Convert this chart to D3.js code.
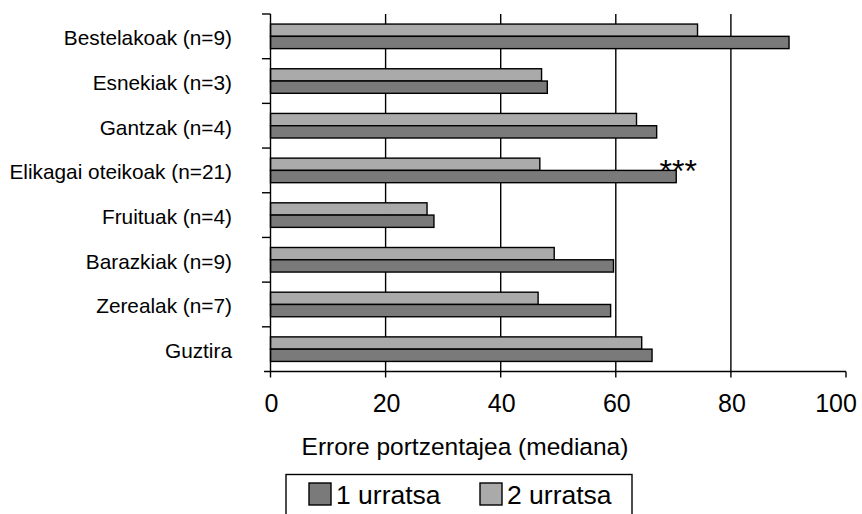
<!DOCTYPE html>
<html lang="eu">
<head>
    <meta charset="UTF-8">
    <title>Errore portzentajea</title>
    <script src="https://d3js.org/d3.v7.min.js"></script>
    <style>
        body { margin: 0; background: white; }
        text { font-family: "Liberation Sans", Arial, sans-serif; fill: black; }
    </style>
</head>
<body>
<svg height="514" width="862"></svg>

<script>
    const categories = ["Bestelakoak (n=9)", "Esnekiak (n=3)", "Gantzak (n=4)", "Elikagai oteikoak (n=21)",
        "Fruituak (n=4)", "Barazkiak (n=9)", "Zerealak (n=7)", "Guztira"];
    const urratsa1 = [90.1, 48.1, 67.1, 70.5, 28.4, 59.6, 59.1, 66.3];
    const urratsa2 = [74.2, 47.1, 63.6, 46.8, 27.2, 49.3, 46.5, 64.5];
    const xTicks = [0, 20, 40, 60, 80, 100];
    const seriesNames = ["1 urratsa", "2 urratsa"];
    const seriesColors = ["#7a7a7a", "#aaaaaa"];
    const marked = "Elikagai oteikoak (n=21)";   // ***

    const svg = d3.select("svg");

    const x = d3.scaleLinear().domain([0, 100]).range([270.5, 846]);
    const y = d3.scaleBand().domain(categories).range([14, 371.5]);
    // light bar (2 urratsa) sits above the dark one inside each band
    const inner = d3.scaleBand().domain(["2", "1"]).range([0, y.bandwidth()]).paddingOuter(0.82);

    // gridlines
    svg.append("g")
        .selectAll("line")
        .data(xTicks.filter(t => t > 0 && t < 100))
        .enter()
        .append("line")
        .attr("x1", d => x(d)).attr("x2", d => x(d))
        .attr("y1", 14).attr("y2", 371.5)
        .attr("stroke", "black").attr("stroke-width", 1.4);

    const rows = categories.map((c, i) => ({cat: c, v1: urratsa1[i], v2: urratsa2[i]}));

    const bars = svg.append("g");
    rows.forEach(function(r) {
        bars.append("rect")
            .attr("x", x(0)).attr("y", y(r.cat) + inner("2"))
            .attr("width", x(r.v2) - x(0)).attr("height", inner.bandwidth())
            .attr("fill", seriesColors[1]).attr("stroke", "black").attr("stroke-width", 1.4);
        bars.append("rect")
            .attr("x", x(0)).attr("y", y(r.cat) + inner("1"))
            .attr("width", x(r.v1) - x(0)).attr("height", inner.bandwidth())
            .attr("fill", seriesColors[0]).attr("stroke", "black").attr("stroke-width", 1.4);
    });

    // significance mark
    const m = rows.find(r => r.cat === marked);
    svg.append("text")
        .attr("x", x(m.v1) + 2)
        .attr("y", y(m.cat) + inner("2") + 24)
        .attr("text-anchor", "middle")
        .style("font-size", "32px")
        .text("***");

    // left axis
    svg.append("line")
        .attr("x1", x(0)).attr("x2", x(0)).attr("y1", 14).attr("y2", 371.5)
        .attr("stroke", "black").attr("stroke-width", 1.4);
    svg.append("g")
        .selectAll("line")
        .data(categories)
        .enter()
        .append("line")
        .attr("x1", 262).attr("x2", x(0))
        .attr("y1", d => y(d)).attr("y2", d => y(d))
        .attr("stroke", "black").attr("stroke-width", 1.4);
    svg.append("g")
        .selectAll("text")
        .data(categories)
        .enter()
        .append("text")
        .attr("x", 232)
        .attr("y", d => y(d) + y.bandwidth() / 2 + 9)
        .attr("text-anchor", "end")
        .style("font-size", "20.8px")
        .text(d => d);

    // bottom axis
    svg.append("line")
        .attr("x1", 264).attr("x2", x(100)).attr("y1", 371.5).attr("y2", 371.5)
        .attr("stroke", "black").attr("stroke-width", 1.4);
    svg.append("g")
        .selectAll("line")
        .data(xTicks)
        .enter()
        .append("line")
        .attr("x1", d => x(d)).attr("x2", d => x(d))
        .attr("y1", 371.5).attr("y2", 377.5)
        .attr("stroke", "black").attr("stroke-width", 1.4);
    svg.append("g")
        .selectAll("text")
        .data(xTicks)
        .enter()
        .append("text")
        .attr("x", d => d === 100 ? x(d) - 10 : x(d) + 1)
        .attr("y", 412)
        .attr("text-anchor", "middle")
        .style("font-size", "25px")
        .text(d => d);

    svg.append("text")
        .attr("x", 465).attr("y", 455)
        .attr("text-anchor", "middle")
        .style("font-size", "24.5px")
        .text("Errore portzentajea (mediana)");

    // legend
    const legend = svg.append("g");
    legend.append("rect")
        .attr("x", 286).attr("y", 474.5).attr("width", 346).attr("height", 60)
        .attr("fill", "white").attr("stroke", "black").attr("stroke-width", 1.4);
    const lx = [309, 480];
    seriesNames.forEach(function(n, i) {
        legend.append("rect")
            .attr("x", lx[i]).attr("y", 483).attr("width", 22).attr("height", 22)
            .attr("fill", seriesColors[i]).attr("stroke", "black").attr("stroke-width", 1.4);
        legend.append("text")
            .attr("x", lx[i] + 27).attr("y", 504)
            .style("font-size", "26.5px")
            .text(n);
    });
</script>

</body>
</html>
